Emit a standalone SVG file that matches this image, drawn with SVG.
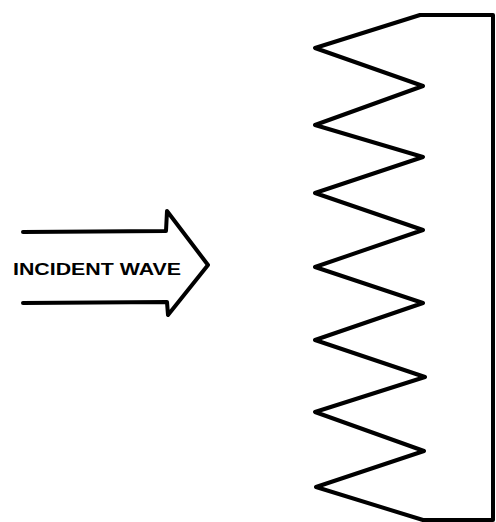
<svg xmlns="http://www.w3.org/2000/svg" width="496" height="522" viewBox="0 0 496 522">
<style>
.ln{fill:none;stroke:#000;stroke-width:4;stroke-linejoin:round;stroke-linecap:round}
.lbl{font-family:"Liberation Sans",Arial,sans-serif;font-weight:bold;font-size:17px;fill:#000}
</style>
<rect width="496" height="522" fill="#fff"/>
<g id="surface">
<path class="ln" d="M493,15 L420,15 L315,48 L423,86 L315,125 L423,157 L315,193 L423,230 L315,267 L423,303 L315,340 L425,377 L315,412 L424,451 L316,487 L423,520 L493,520 Z"/>
</g>
<g id="incident-wave">
<path class="ln" d="M23,232 L166,231 L167,211 L208,265 L168,315 L167,302 L23,303"/>
<text class="lbl" x="13" y="275" textLength="168" lengthAdjust="spacingAndGlyphs">INCIDENT WAVE</text>
</g>
</svg>
